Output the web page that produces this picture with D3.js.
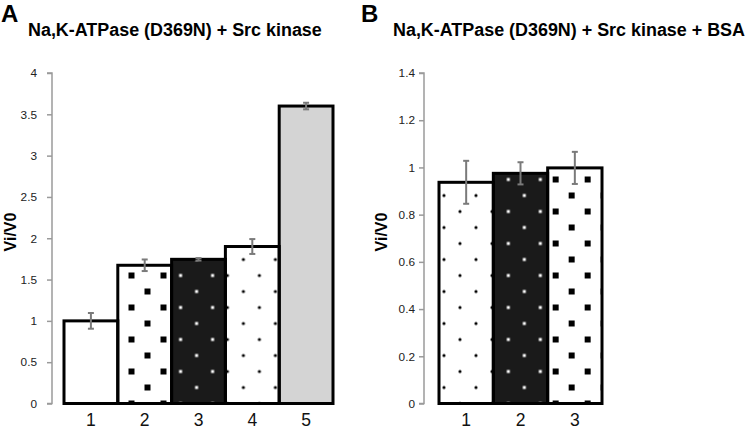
<!DOCTYPE html>
<html><head><meta charset="utf-8">
<script src="https://cdn.jsdelivr.net/npm/d3@7/dist/d3.min.js"></script>
<style>body{margin:0;background:#fff}svg{display:block}text{font-family:"Liberation Sans",Arial,sans-serif}</style>
</head><body>
<svg id="c" width="745" height="429"></svg>
<script>
// ---- data ----
const catsA = ["1","2","3","4","5"];
const valsA = [1.0, 1.673, 1.745, 1.90, 3.60];
const errA  = [0.095, 0.07, 0.015, 0.09, 0.04];
const patA  = ["none","bigsq","whitesq","dots","gray"];
const ticksA = [0,0.5,1,1.5,2,2.5,3,3.5,4];

const catsB = ["1","2","3"];
const valsB = [0.937, 0.975, 0.998];
const errB  = [0.091, 0.047, 0.068];
const patB  = ["dots","whitesq","bigsq"];
const ticksB = [0,0.2,0.4,0.6,0.8,1,1.2,1.4];

const titleA = "Na,K-ATPase (D369N) + Src kinase";
const titleB = "Na,K-ATPase (D369N) + Src kinase + BSA";
const yLabel = "Vi/V0";

const svg = d3.select("#c");
const defs = svg.append("defs");

const styles = {
  none:   {fill:"#fff", mark:null},
  gray:   {fill:"#d4d4d4", mark:null},
  bigsq:  {fill:"#fff", mark:{type:"sq", size:6, color:"#000"}},
  whitesq:{fill:"#1a1a1a", mark:{type:"sq", size:3, color:"#fff"}},
  dots:   {fill:"#fff", mark:{type:"dot", r:1.6, color:"#000"}}
};

function makePattern(id, style, px, py){
  const p = defs.append("pattern").attr("id", id)
    .attr("patternUnits","userSpaceOnUse")
    .attr("x", px).attr("y", py).attr("width", 32).attr("height", 32);
  const pts = [[0,0],[32,0],[0,32],[32,32],[16,16]];
  const m = style.mark;
  pts.forEach(([x,y])=>{
    if(m.type==="sq"){
      p.append("rect").attr("x", x-m.size/2).attr("y", y-m.size/2)
       .attr("width", m.size).attr("height", m.size).attr("fill", m.color);
    } else {
      p.append("circle").attr("cx", x).attr("cy", y).attr("r", m.r).attr("fill", m.color);
    }
  });
}

function panel(cfg){
  const g = svg.append("g");
  const x = d3.scaleBand().domain(cfg.cats).range(cfg.xr).padding(0);
  const y = d3.scaleLinear().domain(cfg.ydom).range([403.5, 73]);

  // y axis
  const ax = g.append("g").attr("transform", `translate(${cfg.axisX},0)`)
    .call(d3.axisLeft(y).tickValues(cfg.ticks).tickSize(5).tickPadding(cfg.pad)
      .tickFormat(d=>String(+d.toFixed(1))));
  ax.selectAll("path,line").attr("stroke","#9a9a9a").attr("stroke-width",1.5);
  ax.select(".domain").attr("d", `M-5,${y(cfg.ticks[cfg.ticks.length-1])}H0V${y(0)}H-5`);
  ax.selectAll("text").attr("font-size", 11.8).attr("fill","#222")
    .attr("font-family",'"Liberation Sans",Arial,sans-serif');

  // bars
  cfg.vals.forEach((v,i)=>{
    const st = styles[cfg.pats[i]];
    const bx = x(cfg.cats[i]), bw = x.bandwidth();
    g.append("rect").attr("x", bx).attr("y", y(v)).attr("width", bw)
      .attr("height", y(0)-y(v)).attr("fill", st.fill);
    if(st.mark){
      const id = cfg.id + "p" + i;
      makePattern(id, st, bx + cfg.offs[i], y(0));
      g.append("rect").attr("x", bx).attr("y", y(v)).attr("width", bw)
        .attr("height", y(0)-y(v)).attr("fill", `url(#${id})`);
    }
  });
  cfg.vals.forEach((v,i)=>{
    const bx = x(cfg.cats[i]), bw = x.bandwidth();
    g.append("rect").attr("x", bx).attr("y", y(v)).attr("width", bw)
      .attr("height", y(0)-y(v)).attr("fill","none")
      .attr("stroke","#000").attr("stroke-width",3);
  });
  // error bars
  cfg.vals.forEach((v,i)=>{
    const cx = x(cfg.cats[i]) + x.bandwidth()/2, e = cfg.errs[i];
    const eg = g.append("g").attr("stroke","#7a7a7a").attr("stroke-width",2);
    eg.append("line").attr("x1",cx).attr("x2",cx).attr("y1",y(v+e)).attr("y2",y(v-e));
    [v+e, v-e].forEach(t=>eg.append("line").attr("x1",cx-3).attr("x2",cx+3).attr("y1",y(t)).attr("y2",y(t)));
  });
  // category labels
  g.selectAll(".cl").data(cfg.cats).enter().append("text")
    .attr("x", d=>x(d)+x.bandwidth()/2).attr("y", 426)
    .attr("text-anchor","middle").attr("font-size",17.5).attr("fill","#111").text(d=>d);
  // y label
  g.append("text").attr("transform", `translate(${cfg.ylabX},232) rotate(-90)`)
    .attr("text-anchor","middle").attr("font-size",16).attr("font-weight","bold").text(yLabel);
  // panel letter
  g.append("text").attr("x", cfg.letterX).attr("y", 22).attr("font-size",24)
    .attr("font-weight","bold").text(cfg.letter);
  // title
  const t = g.append("text").attr("x", cfg.titleX).attr("y", 36)
    .attr("font-size",18).attr("font-weight","bold").text(cfg.title);
  return t;
}

const tA = panel({id:"a", cats:catsA, vals:valsA, errs:errA, pats:patA, ticks:ticksA, ydom:[0,4],
  xr:[64,333], axisX:52, pad:10, offs:[0,13.7,9,2,0], ylabX:16, letter:"A", letterX:1, title:titleA, titleX:28});
const tB = panel({id:"b", cats:catsB, vals:valsB, errs:errB, pats:patB, ticks:ticksB, ydom:[0,1.4],
  xr:[439,602], axisX:424, pad:4, offs:[21,15,8], ylabX:387, letter:"B", letterX:361, title:titleB, titleX:393});

// fit title size to reference width
const wA = tA.node().getComputedTextLength();
const fs = 18 * 294 / wA;
tA.attr("font-size", fs); tB.attr("font-size", fs);
</script>
</body></html>
